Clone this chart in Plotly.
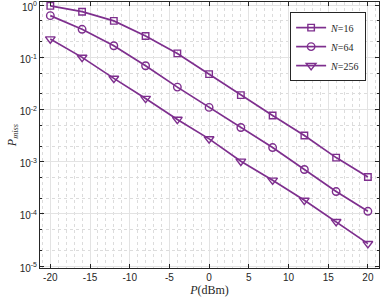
import plotly.graph_objects as go

power_dbm = [-20, -16, -12, -8, -4, 0, 4, 8, 12, 16, 20]
pmiss_n16 = [0.97, 0.75, 0.50, 0.256, 0.119, 0.0478, 0.0189, 0.0077, 0.00318, 0.0012, 0.00051]
pmiss_n64 = [0.63, 0.345, 0.167, 0.069, 0.0269, 0.011, 0.00453, 0.00187, 0.00071, 0.000268, 0.000112]
pmiss_n256 = [0.225, 0.1, 0.0395, 0.0163, 0.00646, 0.00274, 0.00102, 0.000442, 0.000182, 0.0000711, 0.0000269]
series_names = ["<i>N</i>=16", "<i>N</i>=64", "<i>N</i>=256"]
x_tick_vals = [-20, -15, -10, -5, 0, 5, 10, 15, 20]
x_tick_text = ["-20", "-15", "-10", "-5", "0", "5", "10", "15", "20"]
y_tick_vals = [1e-5, 1e-4, 1e-3, 1e-2, 1e-1, 1]
y_tick_text = ["10<sup>-5</sup>", "10<sup>-4</sup>", "10<sup>-3</sup>", "10<sup>-2</sup>", "10<sup>-1</sup>", "10<sup>0</sup>"]

color = "#7E2F8E"
symbols = ["square-open", "circle-open", "triangle-down-open"]
marker_sizes = [6.5, 7.5, 8.5]

fig = go.Figure()
for name, ys, sym, ms in zip(series_names, [pmiss_n16, pmiss_n64, pmiss_n256], symbols, marker_sizes):
    fig.add_trace(go.Scatter(
        x=power_dbm, y=ys, mode="lines+markers", name=name,
        line=dict(color=color, width=1.7),
        marker=dict(symbol=sym, size=ms, color=color, line=dict(color=color, width=1.4)),
    ))

axis_common = dict(
    showline=True, linecolor="#262626", linewidth=1, mirror="ticks",
    ticks="inside", ticklen=4, tickcolor="#262626",
    showgrid=True, gridcolor="#e3e3e3", gridwidth=1,
    tickfont=dict(family="Liberation Sans, Arial", size=10, color="#262626"),
    zeroline=False, automargin=False, ticklabeloverflow="allow",
)

fig.update_xaxes(
    range=[-21.3, 21.4], tickvals=x_tick_vals, ticktext=x_tick_text,
    minor=dict(dtick=1, showgrid=True, gridcolor="#dcdcdc", griddash="dot", ticks=""),
    title=dict(text="<i>P</i>(dBm)", font=dict(family="Liberation Serif", size=12, color="#262626"), standoff=2),
    **axis_common,
)
fig.update_yaxes(
    type="log", range=[-5.037, 0.061], tickvals=y_tick_vals, ticktext=y_tick_text,
    ticklabelshift=2,
    minor=dict(showgrid=True, gridcolor="#dcdcdc", griddash="dot", ticks="inside", ticklen=2, tickcolor="#262626"),
    title=dict(text="<i>P</i><sub><i>miss</i></sub>", font=dict(family="Liberation Serif", size=12, color="#262626"), standoff=0),
    **axis_common,
)

fig.update_layout(
    width=382, height=302,
    margin=dict(l=40, r=3, t=2, b=34),
    plot_bgcolor="white", paper_bgcolor="white",
    showlegend=True,
    legend=dict(
        x=0.962, y=0.962, xanchor="right", yanchor="top",
        bgcolor="white", bordercolor="#262626", borderwidth=1,
        font=dict(family="Liberation Serif", size=10, color="#262626"),
        itemwidth=30, tracegroupgap=0,
    ),
)

fig.write_html(
    "out.html",
    config={"displayModeBar": False},
    post_script="document.body.style.margin='0';document.body.style.overflow='hidden';",
)
